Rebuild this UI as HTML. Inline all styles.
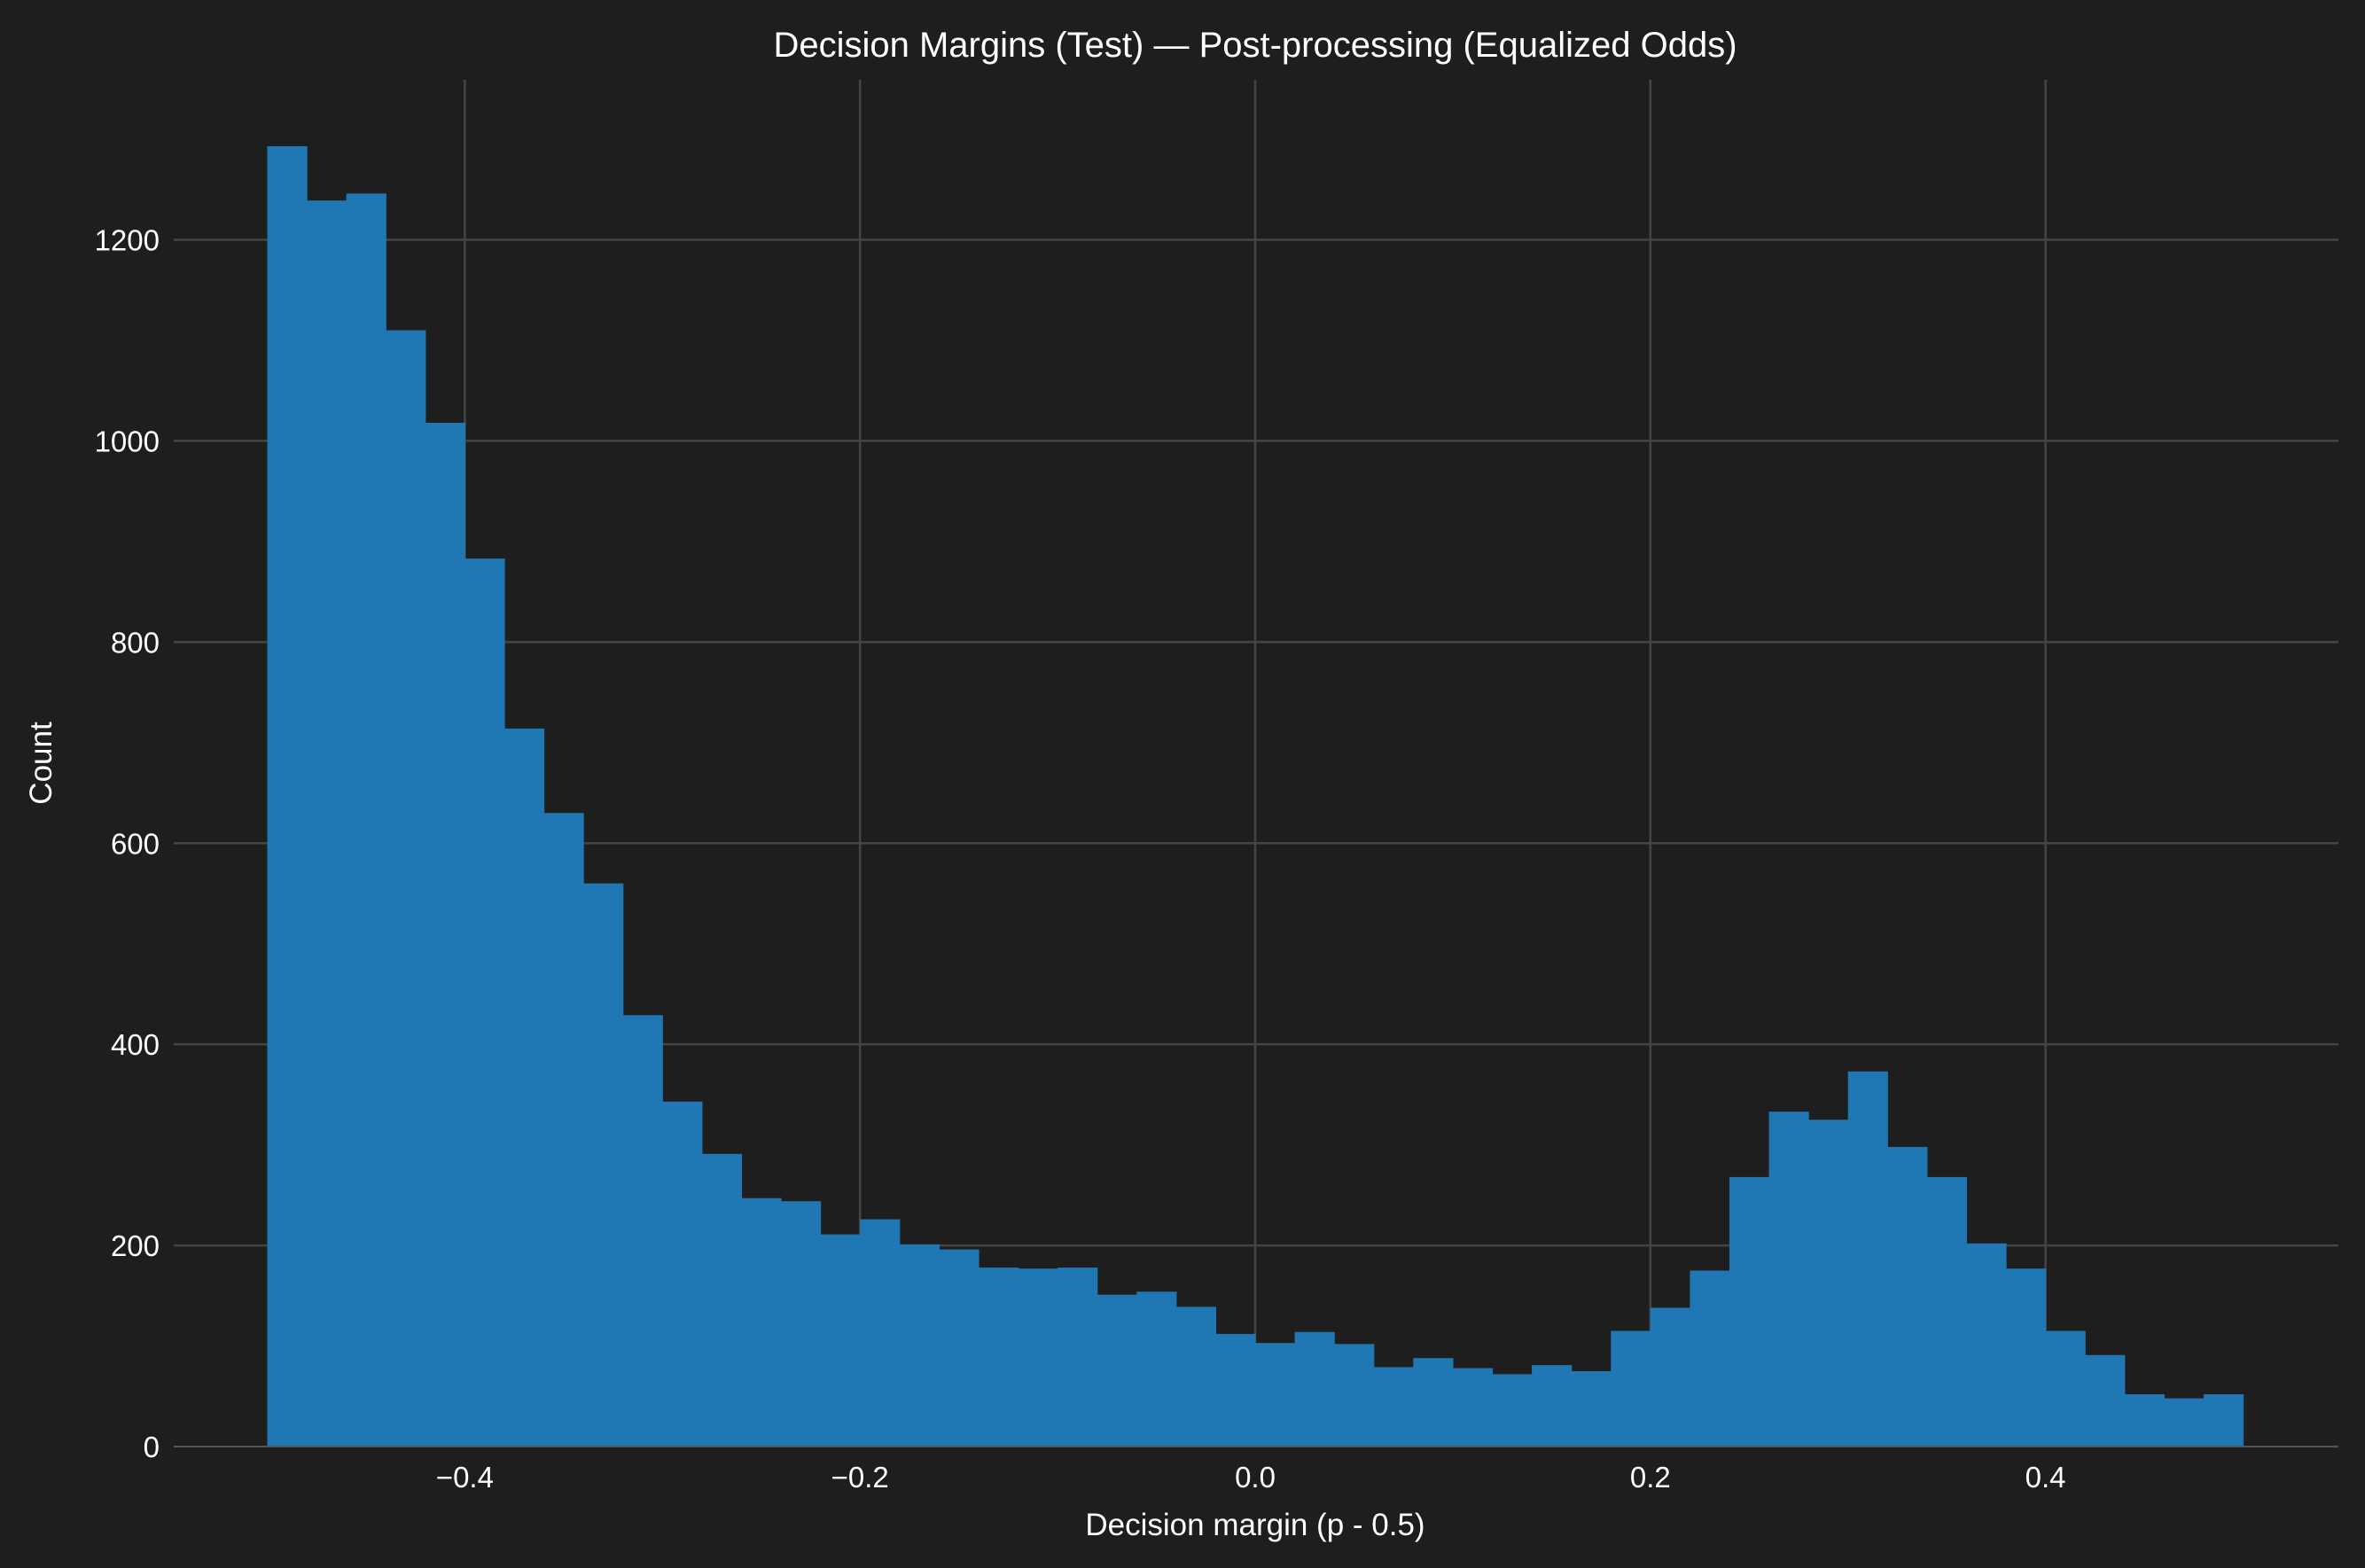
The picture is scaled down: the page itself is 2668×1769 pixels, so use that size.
<!DOCTYPE html>
<html><head><meta charset="utf-8"><style>
html,body{margin:0;padding:0;background:#1e1e1e;}
svg{display:block;font-family:"Liberation Sans",Arial,sans-serif;}
</style></head><body>
<svg id="chart" width="2668" height="1769" viewBox="0 0 2668 1769" xmlns="http://www.w3.org/2000/svg">
<rect x="0" y="0" width="2668" height="1769" fill="#1e1e1e"/>
<g id="grid"></g>
<g id="bars"></g>
<g id="axes"></g>
<text x="1416" y="64" fill="#ffffff" font-size="40" text-anchor="middle">Decision Margins (Test) — Post-processing (Equalized Odds)</text>
<text x="1416" y="1732" fill="#ffffff" font-size="35" text-anchor="middle">Decision margin (p - 0.5)</text>
<text transform="translate(58,861) rotate(-90)" fill="#ffffff" font-size="35" text-anchor="middle">Count</text>
</svg>
<script>
const binStart = -0.5;
const binWidth = 0.02;
const counts = [1293,1239,1246,1110,1018,883,714,630,560,429,343,291,247,244,211,226,201,196,178,177,178,151,154,139,112,103,114,102,79,88,78,72,81,75,115,138,175,268,333,325,373,298,268,202,177,115,91,52,48,52];
const xTicks = [-0.4,-0.2,0.0,0.2,0.4];
const xTickLabels = ["\u22120.4","\u22120.2","0.0","0.2","0.4"];
const yTicks = [0,200,400,600,800,1000,1200];
const yTickLabels = ["0","200","400","600","800","1000","1200"];

const NS="http://www.w3.org/2000/svg";
const L=196,R=2638,T=90,B=1632;
const X=v=>1416+v*2229;
const Y=v=>1632-v*(1361.5/1200);
function mk(tag,attrs,parent){const e=document.createElementNS(NS,tag);for(const k in attrs)e.setAttribute(k,attrs[k]);parent.appendChild(e);return e;}
const grid=document.getElementById('grid'),bars=document.getElementById('bars'),axes=document.getElementById('axes');
xTicks.forEach((t,i)=>{
  const l=mk('line',{x1:X(t),x2:X(t),y1:T,y2:B,stroke:'#454545','stroke-width':2.5},grid);
  
  
  const tx=mk('text',{x:X(t),y:B+46,fill:'#ffffff','font-size':33,'text-anchor':'middle'},axes);
  tx.textContent=xTickLabels[i];
  
  
});
yTicks.forEach((t,i)=>{
  if(t>0){const l=mk('line',{x1:L,x2:R,y1:Y(t),y2:Y(t),stroke:'#454545','stroke-width':2.5},grid);
  
  }
  const tx=mk('text',{x:L-16,y:Y(t)+12,fill:'#ffffff','font-size':33,'text-anchor':'end'},axes);
  tx.textContent=yTickLabels[i];
  
  
});
counts.forEach((c,i)=>{
  const x0=X(binStart+i*binWidth),x1=X(binStart+(i+1)*binWidth);
  const r=mk('rect',{x:x0,y:Y(c),width:x1-x0+0.6,height:Y(0)-Y(c),fill:'#1f77b4'},bars);
  
  
});
const ax=mk('line',{x1:L,x2:R,y1:B,y2:B,stroke:'#555555','stroke-width':2},axes);


</script>
</body></html>
